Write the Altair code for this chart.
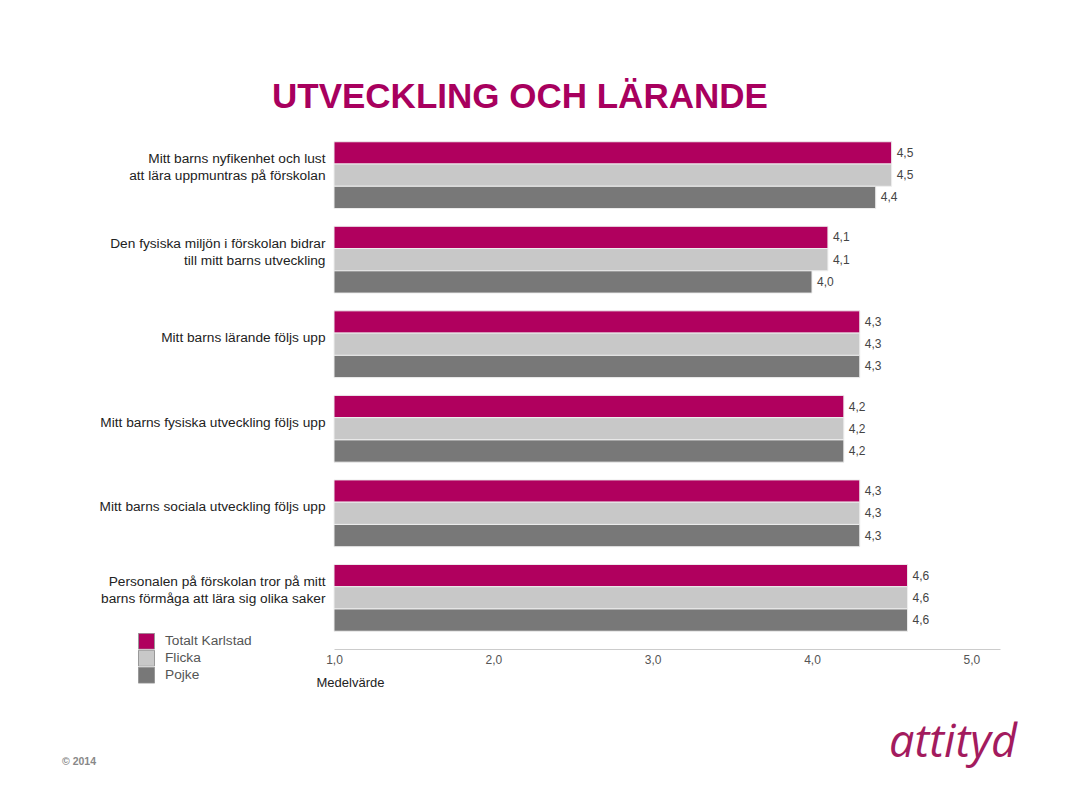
import altair as alt
import pandas as pd

categories = [
    "Mitt barns nyfikenhet och lust\natt lära uppmuntras på förskolan",
    "Den fysiska miljön i förskolan bidrar\ntill mitt barns utveckling",
    "Mitt barns lärande följs upp",
    "Mitt barns fysiska utveckling följs upp",
    "Mitt barns sociala utveckling följs upp",
    "Personalen på förskolan tror på mitt\nbarns förmåga att lära sig olika saker",
]
series = ["Totalt Karlstad", "Flicka", "Pojke"]
totalt = [4.5, 4.1, 4.3, 4.2, 4.3, 4.6]
flicka = [4.5, 4.1, 4.3, 4.2, 4.3, 4.6]
pojke = [4.4, 4.0, 4.3, 4.2, 4.3, 4.6]
colors = ["#B0005E", "#C8C8C8", "#787878"]
x_ticks = [1, 2, 3, 4, 5]
title_text = "UTVECKLING OCH LÄRANDE"
x_title = "Medelvärde"
footer_texts = ["© 2014"]
logo_texts = ["attityd"]

FONT = "Liberation Sans"

rows = []
for s, vals in zip(series, [totalt, flicka, pojke]):
    for c, v in zip(categories, vals):
        rows.append({"kategori": c, "serie": s, "value": v})
df = pd.DataFrame(rows)

y_enc = alt.Y(
    "kategori:N",
    sort=categories,
    scale=alt.Scale(paddingInner=0.21, paddingOuter=0.21),
    axis=alt.Axis(
        title=None,
        labelExpr="split(datum.label, '\\n')",
        labelFont=FONT,
        labelFontSize=13.7,
        labelColor="#222222",
        labelPadding=9,
        labelLineHeight=17,
        labelOffset={"condition": {"test": "indexof(datum.label, '\\n') >= 0", "value": -16}, "value": -6},
        labelLimit=400,
        ticks=False,
        domain=False,
    ),
)
yoff_enc = alt.YOffset("serie:N", sort=series, scale=alt.Scale(paddingInner=0, paddingOuter=0))
x_enc = alt.X(
    "value:Q",
    scale=alt.Scale(domain=[1, 5.18], nice=False, zero=False),
    axis=alt.Axis(
        values=x_ticks,
        labelExpr="replace(format(datum.value, '.1f'), '.', ',')",
        labelFlush=False,
        grid=False,
        ticks=False,
        domainColor="#cccccc",
        labelFont=FONT,
        labelFontSize=12,
        labelColor="#555555",
        labelPadding=5,
        title=x_title,
        titleFont=FONT,
        titleFontSize=13,
        titleFontWeight="normal",
        titleColor="#222222",
        titleX=-18,
        titleY=37,
        titleAlign="left",
        titleBaseline="alphabetic",
    ),
)

bars = alt.Chart(df).mark_bar(stroke="#eeeeee", strokeWidth=1).encode(
    y=y_enc,
    yOffset=yoff_enc,
    x=x_enc,
    x2=alt.datum(1),
    color=alt.Color(
        "serie:N",
        sort=series,
        scale=alt.Scale(domain=series, range=colors),
        legend=alt.Legend(
            title=None,
            orient="none",
            legendX=-196,
            legendY=509,
            symbolType="square",
            symbolSize=256,
            symbolStrokeColor="#999999",
            symbolStrokeWidth=1,
            symbolOpacity=1,
            labelFont=FONT,
            labelFontSize=13.7,
            labelColor="#555555",
            labelOffset=10,
            rowPadding=0,
            clipHeight=16.5,
        ),
    ),
)

labels = alt.Chart(df).transform_calculate(
    txt="replace(format(datum.value, '.1f'), '.', ',')"
).mark_text(align="left", baseline="middle", dx=5, font=FONT, fontSize=12, color="#444444").encode(
    y=alt.Y("kategori:N", sort=categories),
    yOffset=alt.YOffset("serie:N", sort=series),
    x="value:Q",
    text="txt:N",
)

footer = alt.Chart(pd.DataFrame({"t": footer_texts})).mark_text(
    align="left", baseline="middle", font=FONT, fontSize=10.5, fontWeight="bold", color="#888888"
).encode(text="t:N", x=alt.value(-272), y=alt.value(638))

logo = alt.Chart(pd.DataFrame({"t": logo_texts})).mark_text(
    align="left", baseline="alphabetic", font="Open Sans", fontSize=45, fontStyle="italic", color="#A31B5E"
).encode(text="t:N", x=alt.value(555), y=alt.value(633))

chart = alt.layer(bars, labels, footer, logo).properties(
    width=666,
    height=525,
    title=alt.TitleParams(
        text=title_text,
        anchor="start",
        frame="group",
        dx=-62,
        dy=35,
        font=FONT,
        fontSize=35,
        fontWeight="bold",
        color="#A8005E",
        offset=16,
        baseline="alphabetic",
    ),
    padding={"left": 326, "top": 116, "right": 61, "bottom": 144},
    autosize=alt.AutoSizeParams(type="none"),
).configure_view(stroke=None)

chart.save("out.html", embed_options={"renderer": "svg", "actions": False})
